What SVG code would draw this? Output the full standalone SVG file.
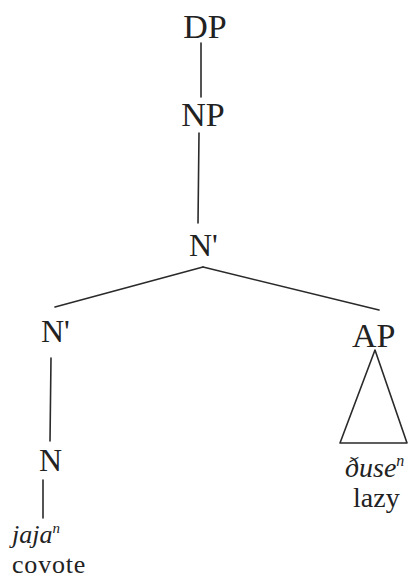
<svg xmlns="http://www.w3.org/2000/svg" width="410" height="580" viewBox="0 0 410 580">
<style>
.lbl{font-family:"Liberation Serif","Times New Roman",serif;fill:#222;}
.cat{font-size:34px;}
.bar{font-size:32px;}
.word{font-size:28px;}
.sm{font-size:26px;}
.it{font-style:italic;}
.edge{stroke:#2a2a2a;stroke-width:1.6;fill:none;stroke-linecap:round;}
</style>
<rect width="410" height="580" fill="#ffffff"/>
<g id="connectors">
<line class="edge" x1="201" y1="43" x2="201" y2="97"/>
<line class="edge" x1="199" y1="133" x2="198" y2="223"/>
<line class="edge" x1="203" y1="267" x2="55" y2="307"/>
<line class="edge" x1="203" y1="267" x2="379" y2="310"/>
<line class="edge" x1="51" y1="358" x2="50" y2="441"/>
<line class="edge" x1="43" y1="480" x2="43" y2="518"/>
</g>
<g id="DP"><text class="lbl cat" x="205" y="38" text-anchor="middle">DP</text></g>
<g id="NP"><text class="lbl cat" x="203" y="126" text-anchor="middle">NP</text></g>
<g id="Nbar-top"><text class="lbl bar" x="189" y="256">N'</text></g>
<g id="Nbar-left"><text class="lbl bar" x="41" y="342">N'</text></g>
<g id="AP"><text class="lbl cat" x="352" y="347">AP</text>
<polygon class="edge" points="375,350 340,443 407,443" stroke-linejoin="round"/></g>
<g id="N"><text class="lbl bar" x="39" y="471">N</text></g>
<g id="jaja"><text class="lbl sm it" x="12" y="543">jaja<tspan font-size="15" dy="-10">n</tspan></text>
<text class="lbl sm" x="12" y="573" letter-spacing="0.8">covote</text></g>
<g id="duse"><text class="lbl word it" x="345" y="477">ðuse<tspan font-size="16" dy="-11">n</tspan></text>
<text class="lbl word" x="353" y="507">lazy</text></g>
</svg>
